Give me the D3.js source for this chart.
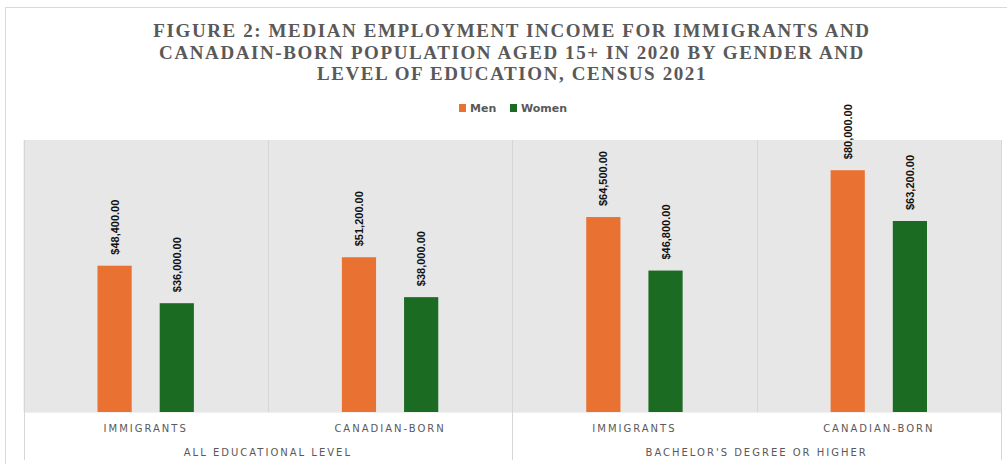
<!DOCTYPE html>
<meta charset="utf-8">
<style>
  body { margin: 0; background: #fff; }
  .title { font: bold 19px "Liberation Serif", serif; fill: #595959; letter-spacing: 1.6px; }
  .legend text { font: bold 11px "DejaVu Sans", sans-serif; fill: #595959; }
  .value { font: bold 11px "Liberation Sans", sans-serif; fill: #111; }
  .cat { font: 10px "DejaVu Sans", sans-serif; fill: #595959; letter-spacing: 2px; }
</style>
<body>
<script src="https://cdn.jsdelivr.net/npm/d3@7"></script>
<script>
  // data
  var groups = ["ALL EDUCATIONAL LEVEL", "BACHELOR'S DEGREE OR HIGHER"];
  var populations = ["IMMIGRANTS", "CANADIAN-BORN"];
  var series = ["Men", "Women"];
  var menValues = [48400, 51200, 64500, 80000];
  var womenValues = [36000, 38000, 46800, 63200];
  var colors = ["#e97132", "#1b6b23"];

  var width = 1007, height = 464;
  var margin = { top: 140, left: 23, right: 6, bottom: 52 };
  var plotBottom = height - margin.bottom;

  var svg = d3.select("body").append("svg")
    .attr("width", width)
    .attr("height", height);

  // chart border
  svg.append("rect")
    .attr("x", 5.5).attr("y", 7.5)
    .attr("width", 1010).attr("height", 470)
    .attr("fill", "none").attr("stroke", "#d9d9d9");

  // title
  var titleLines = [
    "FIGURE 2: MEDIAN EMPLOYMENT INCOME FOR IMMIGRANTS AND",
    "CANADAIN-BORN POPULATION AGED 15+ IN 2020 BY GENDER AND",
    "LEVEL OF EDUCATION, CENSUS 2021"
  ];
  svg.append("g").selectAll("text")
    .data(titleLines)
    .enter().append("text")
    .attr("class", "title")
    .attr("x", 512)
    .attr("y", function (d, i) { return 37 + i * 21.5; })
    .attr("text-anchor", "middle")
    .text(function (d) { return d; });

  // legend
  var legend = svg.append("g").attr("class", "legend")
    .attr("transform", "translate(459,104)");
  var legendX = [0, 51];
  series.forEach(function (s, i) {
    legend.append("rect")
      .attr("x", legendX[i]).attr("y", 0)
      .attr("width", 7).attr("height", 8)
      .attr("fill", colors[i]);
    legend.append("text")
      .attr("x", legendX[i] + 11).attr("y", 8)
      .text(s);
  });

  // build the table of 4 categories
  var table = [];
  groups.forEach(function (g, gi) {
    populations.forEach(function (p, pi) {
      var k = gi * 2 + pi;
      table.push({ key: k, group: g, pop: p, values: [menValues[k], womenValues[k]] });
    });
  });

  var x0 = d3.scaleBand()
    .domain(table.map(function (d) { return d.key; }))
    .range([margin.left + 0.5, width - margin.right])
    .paddingInner(0).paddingOuter(0);

  var x1 = d3.scaleBand()
    .domain(series)
    .range([0, x0.bandwidth()])
    .paddingInner(0.45)
    .paddingOuter(1.19);

  var y = d3.scaleLinear()
    .domain([0, 90000])
    .range([plotBottom, margin.top]);

  // plot background
  svg.append("rect")
    .attr("x", x0.range()[0]).attr("y", y(90000))
    .attr("width", x0.range()[1] - x0.range()[0])
    .attr("height", y(0) - y(90000))
    .attr("fill", "#e7e7e7");

  // separators inside the plot
  svg.append("g").selectAll("line")
    .data(table.slice(1))
    .enter().append("line")
    .attr("x1", function (d) { return Math.round(x0(d.key)) + 0.5; })
    .attr("x2", function (d) { return Math.round(x0(d.key)) + 0.5; })
    .attr("y1", y(90000)).attr("y2", y(0))
    .attr("stroke", "#d6d6d6");

  // bars
  var cat = svg.append("g").selectAll("g")
    .data(table)
    .enter().append("g")
    .attr("transform", function (d) { return "translate(" + x0(d.key) + ",0)"; });

  cat.selectAll("rect")
    .data(function (d) { return d.values.map(function (v, i) { return { s: series[i], v: v, i: i }; }); })
    .enter().append("rect")
    .attr("x", function (d) { return x1(d.s); })
    .attr("y", function (d) { return y(d.v); })
    .attr("width", x1.bandwidth())
    .attr("height", function (d) { return y(0) - y(d.v); })
    .attr("fill", function (d) { return colors[d.i]; });

  var fmt = d3.format("$,.2f");
  cat.selectAll("text.value")
    .data(function (d) { return d.values.map(function (v, i) { return { s: series[i], v: v }; }); })
    .enter().append("text")
    .attr("class", "value")
    .attr("transform", function (d) {
      return "translate(" + (x1(d.s) + x1.bandwidth() / 2 + 4) + "," + (y(d.v) - 11) + ") rotate(-90)";
    })
    .text(function (d) { return fmt(d.v); });

  // category axis area
  var axis = svg.append("g");
  axis.append("line")
    .attr("x1", x0.range()[0]).attr("x2", x0.range()[1])
    .attr("y1", plotBottom + 0.5).attr("y2", plotBottom + 0.5)
    .attr("stroke", "#f0f0f0");

  var groupEdges = [0, 2, 4].map(function (k) {
    return k < 4 ? x0(k) : x0.range()[1];
  });
  axis.selectAll("line.edge")
    .data(groupEdges)
    .enter().append("line")
    .attr("x1", function (d) { return Math.round(d) + 0.5; })
    .attr("x2", function (d) { return Math.round(d) + 0.5; })
    .attr("y1", y(90000)).attr("y2", height - 4)
    .attr("stroke", "#d6d6d6");

  axis.selectAll("text.pop")
    .data(table)
    .enter().append("text")
    .attr("class", "cat")
    .attr("x", function (d) { return x0(d.key) + x0.bandwidth() / 2; })
    .attr("y", plotBottom + 20)
    .attr("text-anchor", "middle")
    .text(function (d) { return d.pop; });

  axis.selectAll("text.grp")
    .data(groups)
    .enter().append("text")
    .attr("class", "cat")
    .attr("x", function (d, i) { return (groupEdges[i] + groupEdges[i + 1]) / 2; })
    .attr("y", plotBottom + 44)
    .attr("text-anchor", "middle")
    .text(function (d) { return d; });
</script>
</body>
